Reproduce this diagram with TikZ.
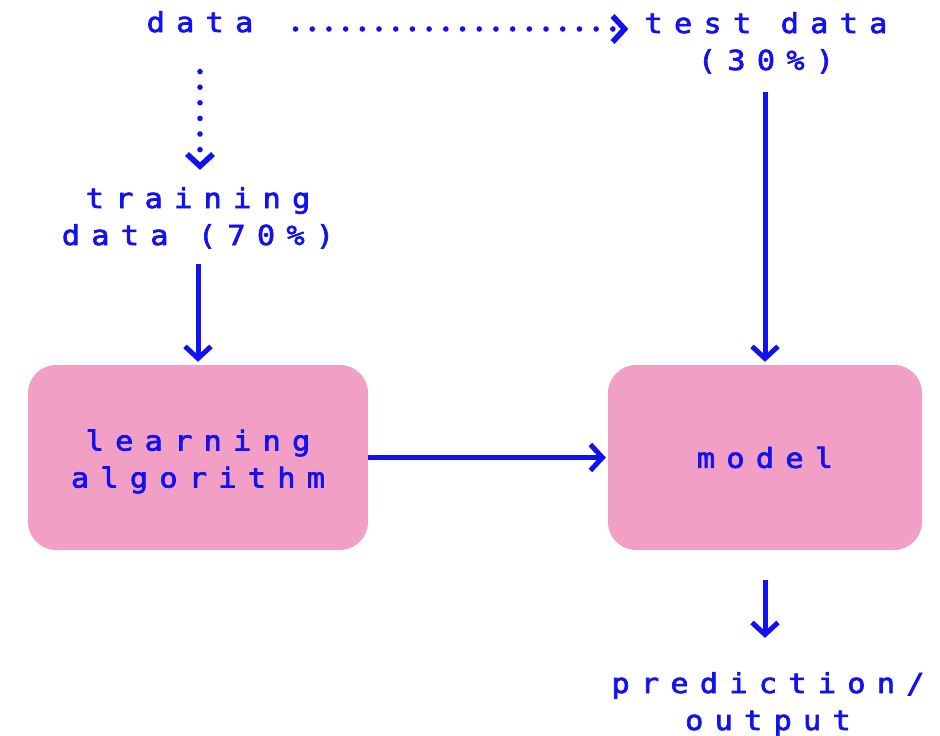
\documentclass[tikz,border=0pt]{standalone}
\usepackage{fontspec}
\usetikzlibrary{arrows.meta}
\newfontfamily\spacedmono{DejaVu Sans Mono}[LetterSpace=41, FakeBold=2.5, FakeStretch=1.1]
\definecolor{ink}{RGB}{18,18,240}
\definecolor{boxpink}{RGB}{241,159,197}
\begin{document}
\begin{tikzpicture}[x=1pt,y=-1pt,
  lbl/.style={text=ink, font=\spacedmono\fontsize{27.5}{37}\selectfont, align=center, inner sep=0pt},
  blk/.style={lbl, fill=boxpink, rounded corners=28pt, minimum height=185pt},
  flow/.style={draw=ink, line width=5pt, -{Straight Barb[sharp, length=12pt, width=26pt]}},
  hdots/.style={flow, line width=5.6pt, line cap=round, dash pattern=on 0pt off 16.7pt},
  vdots/.style={flow, line width=5.6pt, line cap=round, dash pattern=on 0pt off 15.6pt}]
\useasboundingbox (0,0) rectangle (940,736);
% labels (base anchor = baseline of the last line)
\node[lbl, anchor=base] (data) at (200,32) {data};
\node[lbl, anchor=base] (test) at (766,70) {test data\\(30\%)};
\node[lbl, anchor=base] (train) at (198,245) {training\\data (70\%)};
\node[lbl, anchor=base] (pred) at (768,730) {prediction/\\output};
% boxes
\node[blk, minimum width=340pt] (learn) at (198,457.5) {\rule{0pt}{29pt}learning\\algorithm};
\node[blk, minimum width=314pt] (model) at (765,457.5) {model};
% connectors
\draw[hdots, shorten <=42pt] ([yshift=3pt]data.base east) -- ([yshift=3pt,xshift=-16pt]data.base east -| test.west);
\draw[vdots, shorten <=39pt, shorten >=17pt] (data.south) -- (data.south |- train.north);
\draw[flow, shorten <=15pt, shorten >=3pt] (train.south) -- (train.south |- learn.north);
\draw[flow, shorten <=18pt, shorten >=3pt] (test.south -| model.north) -- (model.north);
\draw[flow, shorten >=2pt] (learn.east) -- (model.west);
\draw[flow, shorten <=30pt, shorten >=34pt] (model.south) -- (model.south |- pred.north);
\end{tikzpicture}
\end{document}
